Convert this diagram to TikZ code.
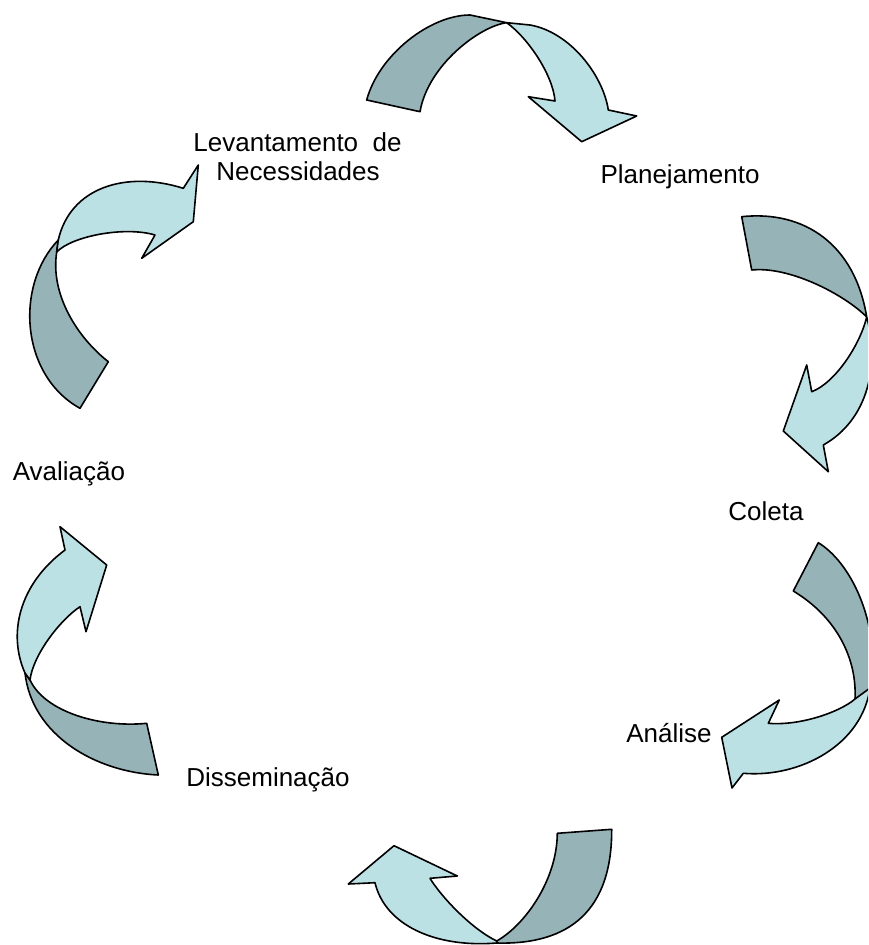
\documentclass[tikz,border=0pt]{standalone}
\usepackage{fontspec}
\setmainfont{Liberation Sans}
\definecolor{backteal}{RGB}{150,180,184}
\definecolor{frontteal}{RGB}{188,225,229}
\tikzset{
  backpart/.style={fill=backteal, draw=black, line width=1.6pt, line join=round},
  frontpart/.style={fill=frontteal, draw=black, line width=1.6pt, line join=round},
  label/.style={font=\fontsize{26}{28}\selectfont, anchor=base, inner sep=0pt, align=center}
}
\begin{document}
\begin{tikzpicture}[x=1pt,y=-1pt]
\useasboundingbox (0,0) rectangle (868,945);
\fill[white] (0,0) rectangle (868,945);
\clip (0,0) rectangle (868,945);

% Arrow 1 (top)
\filldraw[backpart] (366.7,100) .. controls (378.7,55) and (430,15) .. (470,15)
  -- (506.7,22.7) .. controls (480,26) and (428,65) .. (420,111.7) -- cycle;
\filldraw[frontpart] (506.7,22.7) -- (530,25) .. controls (570,32) and (603,75) .. (608.3,110)
  -- (636.7,116) -- (581.7,141.7) -- (528.3,96.7) -- (555,101)
  .. controls (553,75) and (528,38) .. (506.7,22.7) -- cycle;

% Arrow 2 (right upper)
\filldraw[backpart] (741.7,216.7) .. controls (805,210) and (855,245) .. (866.7,317)
  .. controls (845,295) and (790,266) .. (751.7,270) -- cycle;
\filldraw[frontpart] (866.7,317) .. controls (880,365) and (868,420) .. (823.3,445)
  -- (828.3,471.7) -- (783.3,431) -- (806.7,365) -- (811.7,391.7)
  .. controls (835,383) and (860,345) .. (866.7,317) -- cycle;

% Arrow 3 (right lower)
\filldraw[backpart] (818.3,542.7) .. controls (850,562) and (880,620) .. (872,690)
  -- (855,699) .. controls (857,660) and (838,618) .. (793.3,591) -- cycle;
\filldraw[frontpart] (855,699) -- (870,688) .. controls (862,745) and (800,778) .. (743.3,773.3)
  -- (732,788) -- (721.7,737.3) -- (779.3,700) -- (768.3,723.3)
  .. controls (800,726) and (840,712) .. (855,699) -- cycle;

% Arrow 4 (bottom)
\filldraw[backpart] (557.3,833.3) -- (611.7,829.3) .. controls (612,910) and (570,945) .. (496.7,943)
  -- (496.7,941) .. controls (525,925) and (557,880) .. (557.3,833.3) -- cycle;
\filldraw[frontpart] (496.7,941) .. controls (470,928) and (440,895) .. (430,878.3)
  -- (457.3,876) -- (394,845.7) -- (348.3,884) -- (375,882.7)
  .. controls (385,925) and (435,948) .. (496.7,943) -- cycle;

% Arrow 5 (left lower)
\filldraw[backpart] (25,673) .. controls (32,735) and (95,772) .. (158.3,775)
  -- (146.7,723.3) .. controls (100,728) and (45,712) .. (30,680) -- cycle;
\filldraw[frontpart] (65,550) -- (60,526.7) -- (106.7,565) -- (86,631.7) -- (80,606.7)
  .. controls (60,620) and (33,655) .. (30,680)
  -- (25,673) .. controls (8,635) and (18,585) .. (65,550) -- cycle;

% Arrow 6 (left upper)
\filldraw[backpart] (58.3,240) .. controls (15,285) and (20,375) .. (80,408.3)
  -- (108.3,361.7) .. controls (78,338) and (50,295) .. (56.7,252) -- cycle;
\filldraw[frontpart] (183.3,188.3) -- (198.3,165) -- (193.3,221.7) -- (141.7,258.3) -- (155,235)
  .. controls (125,226) and (72,236) .. (56.7,252)
  -- (58.3,240) .. controls (70,188) and (125,170) .. (183.3,188.3) -- cycle;

% Labels
\node[label] (lev) at (297.5,151.7) {Levantamento\ \ de};
\node[label] (nec) at (298,180) {Necessidades};
\node[label] (plan) at (680,183.3) {Planejamento};
\node[label] (aval) at (69,480) {Avaliação};
\node[label] (col) at (766,520.7) {Coleta};
\node[label] (ana) at (669,742) {Análise};
\node[label] (dis) at (268,786) {Disseminação};
\end{tikzpicture}
\end{document}
